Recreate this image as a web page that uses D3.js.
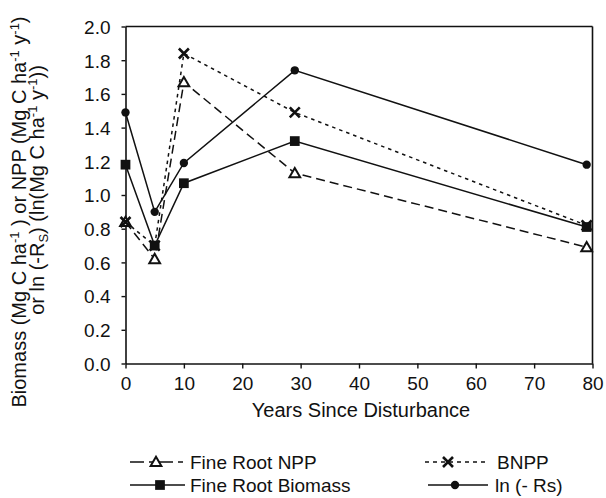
<!DOCTYPE html>
<html><head><meta charset="utf-8">
<script src="https://cdn.jsdelivr.net/npm/d3@7"></script>
<style>
html,body{margin:0;padding:0;background:#fff;}
svg text{font-family:"Liberation Sans",Arial,Helvetica,sans-serif;fill:#111;}
</style></head>
<body><svg id="chart" width="606" height="498"></svg>
<script>
const years = [0, 5, 10, 29, 79];
const fineRootNPP = [0.84, 0.62, 1.67, 1.13, 0.69];
const bnpp = [0.84, 0.70, 1.84, 1.49, 0.82];
const fineRootBiomass = [1.18, 0.70, 1.07, 1.32, 0.81];
const lnRs = [1.49, 0.90, 1.19, 1.74, 1.18];
const xTicks = [0, 10, 20, 30, 40, 50, 60, 70, 80];
const yTicks = [0, 0.2, 0.4, 0.6, 0.8, 1.0, 1.2, 1.4, 1.6, 1.8, 2.0];

const svg = d3.select("#chart");
const L = 125.5, R = 592.5, T = 26.5, B = 363.5;
const x = d3.scaleLinear().domain([0, 80]).range([L, R]);
const y = d3.scaleLinear().domain([0, 2]).range([B, T]);
const ink = "#111";

// frame top/right
svg.append("line").attr("x1", L).attr("x2", R).attr("y1", T).attr("y2", T).attr("stroke", ink).attr("stroke-width", 1.6);
svg.append("line").attr("x1", R).attr("x2", R).attr("y1", T).attr("y2", B).attr("stroke", ink).attr("stroke-width", 1.6);

const xAxis = svg.append("g").attr("transform", `translate(0,${B})`)
  .call(d3.axisBottom(x).tickValues(xTicks).tickFormat(d3.format("d")).tickSize(5).tickSizeOuter(0));
const yAxis = svg.append("g").attr("transform", `translate(${L},0)`)
  .call(d3.axisLeft(y).tickValues(yTicks).tickFormat(d3.format(".1f")).tickSize(4).tickSizeOuter(0));
[xAxis, yAxis].forEach(g => {
  g.select(".domain").attr("stroke", ink).attr("stroke-width", 1.6);
  g.selectAll(".tick line").attr("stroke", ink).attr("stroke-width", 1.4);
  g.selectAll(".tick text").attr("font-size", 19).attr("font-family", "Liberation Sans, Arial, sans-serif").attr("fill", ink);
});
xAxis.selectAll(".tick text").attr("dy", "0").attr("y", 26.5);
yAxis.selectAll(".tick text").attr("x", -15).attr("dy", "0.36em");

// axis titles
svg.append("text").attr("x", (L + R) / 2 + 2).attr("y", 417).attr("text-anchor", "middle")
  .attr("font-size", 20).text("Years Since Disturbance");

function richText(sel, parts) {
  parts.forEach(p => {
    const t = sel.append("tspan").text(p.t);
    if (p.sup) t.attr("font-size", 13).attr("baseline-shift", "55%");
    if (p.sub) t.attr("font-size", 13).attr("baseline-shift", "-30%");
  });
}
const yt1 = svg.append("text").attr("transform", "translate(25.5,212) rotate(-90)")
  .attr("text-anchor", "middle").attr("font-size", 20);
richText(yt1, [{t: "Biomass (Mg C ha"}, {t: "-1", sup: 1}, {t: " ) or NPP (Mg C ha"}, {t: "-1", sup: 1}, {t: "  y"}, {t: "-1", sup: 1}, {t: ")"}]);
const yt2 = svg.append("text").attr("transform", "translate(44,190) rotate(-90)")
  .attr("text-anchor", "middle").attr("font-size", 20);
richText(yt2, [{t: "or ln (-R"}, {t: "S", sub: 1}, {t: ") (ln(Mg C ha"}, {t: "-1", sup: 1}, {t: " y"}, {t: "-1", sup: 1}, {t: "))"}]);

// series
const series = [
  {name: "Fine Root NPP", vals: fineRootNPP, dash: "9,5", marker: "tri"},
  {name: "BNPP", vals: bnpp, dash: "3.5,4", marker: "x"},
  {name: "Fine Root Biomass", vals: fineRootBiomass, dash: null, marker: "sq"},
  {name: "ln (- Rs)", vals: lnRs, dash: null, marker: "dot"}
];
const line = d3.line().x(d => x(d[0])).y(d => y(d[1]));

function marker(g, type, cx, cy) {
  if (type === "tri") {
    g.append("path").attr("d", d3.symbol().type(d3.symbolTriangle).size(50)())
      .attr("transform", `translate(${cx},${cy + 1})`).attr("fill", "#fff").attr("stroke", ink).attr("stroke-width", 2);
  } else if (type === "sq") {
    g.append("path").attr("d", d3.symbol().type(d3.symbolSquare).size(95)())
      .attr("transform", `translate(${cx},${cy})`).attr("fill", ink);
  } else if (type === "dot") {
    g.append("path").attr("d", d3.symbol().type(d3.symbolCircle).size(55)())
      .attr("transform", `translate(${cx},${cy})`).attr("fill", ink);
  } else if (type === "x") {
    const s = 5;
    g.append("path").attr("d", `M${cx - s},${cy - s}L${cx + s},${cy + s}M${cx - s},${cy + s}L${cx + s},${cy - s}`)
      .attr("stroke", ink).attr("stroke-width", 2.6).attr("fill", "none");
  }
}

const plot = svg.append("g");
series.forEach(s => {
  const pts = years.map((yr, i) => [yr, s.vals[i]]);
  plot.append("path").attr("d", line(pts)).attr("fill", "none").attr("stroke", ink)
    .attr("stroke-width", 1.5).attr("stroke-dasharray", s.dash);
});
series.forEach(s => {
  const g = plot.append("g");
  years.forEach((yr, i) => marker(g, s.marker, x(yr), y(s.vals[i])));
});

// legend
const legendItems = [
  {s: series[0], x0: 130, x1: 183, mx: 156, tx: 190, ty: 469, dash: "14,5,5,5"},
  {s: series[2], x0: 130, x1: 185, mx: 160, tx: 190, ty: 492, dash: null},
  {s: series[1], x0: 425, x1: 487, mx: 448, tx: 497, ty: 469, dash: "4,4"},
  {s: series[3], x0: 428, x1: 488, mx: 455, tx: 495, ty: 492, dash: null}
];
const lg = svg.append("g");
legendItems.forEach(it => {
  lg.append("line").attr("x1", it.x0).attr("x2", it.x1).attr("y1", it.ty - 7).attr("y2", it.ty - 7)
    .attr("stroke", ink).attr("stroke-width", 1.5).attr("stroke-dasharray", it.dash);
  marker(lg, it.s.marker, it.mx, it.ty - 7);
  lg.append("text").attr("x", it.tx).attr("y", it.ty).attr("font-size", 19).text(it.s.name);
});
</script></body></html>
